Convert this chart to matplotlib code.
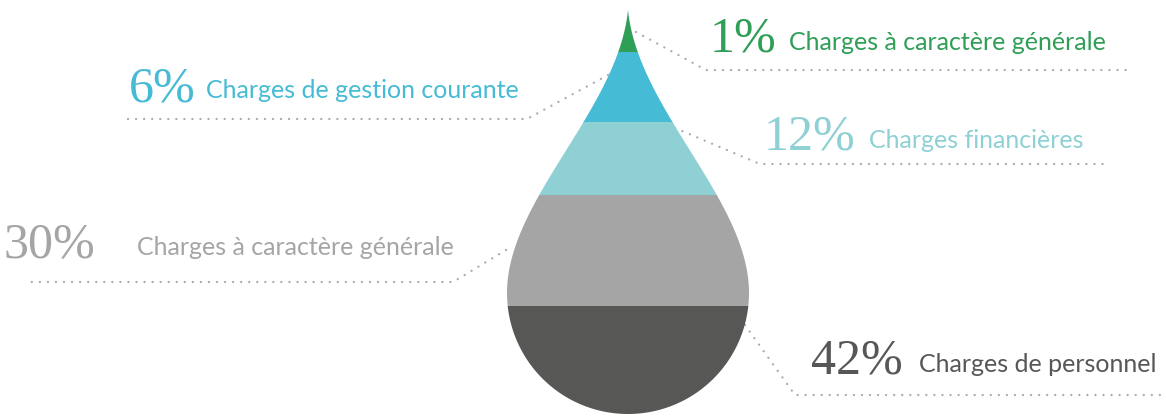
import numpy as np
import matplotlib.pyplot as plt
from matplotlib.patches import Polygon

# shares of the budget, from the tip of the drop down to its base
shares = [1, 6, 12, 30, 42]
labels = [
    "Charges à caractère générale",
    "Charges de gestion courante",
    "Charges financières",
    "Charges à caractère générale",
    "Charges de personnel",
]
colors = ["#2f9e57", "#46bbd5", "#8fd0d5", "#a5a5a5", "#575756"]

# label placement (pixel coords, y down) and leader polylines
pct_pos = [(743, 52), (162, 101), (809, 150), (49, 258), (857, 373)]
lab_pos = [(789, 50), (206, 98), (869, 148), (137, 255), (919, 372)]
leaders = [
    [(636, 32), (706, 70), (1133, 70)],
    [(608, 75), (527, 119), (128, 119)],
    [(675, 128), (760, 164), (1105, 164)],
    [(506, 250), (453, 282), (25, 282)],
    [(745, 325), (795, 395), (1162, 395)],
]

fig = plt.figure(figsize=(11.66, 4.16), dpi=100)
ax = fig.add_axes([0, 0, 1, 1])
ax.set_xlim(0, 1166)
ax.set_ylim(416, 0)
ax.axis("off")

# drop outline: bezier flanks from the tip, round base
cx, tip, mid, r = 628, 10, 293, 121
t = np.linspace(0, 1, 120)[:, None]
p = np.array([[0, 0], [10, 100], [r, 190], [r, mid - tip]])
bez = (1 - t) ** 3 * p[0] + 3 * (1 - t) ** 2 * t * p[1] + 3 * (1 - t) * t ** 2 * p[2] + t ** 3 * p[3]
ang = np.linspace(0, np.pi, 120)
right = np.c_[cx + bez[:, 0], tip + bez[:, 1]]
base = np.c_[cx + r * np.cos(ang), mid + r * np.sin(ang)]
left = np.c_[cx - bez[::-1, 0], tip + bez[::-1, 1]]
drop = Polygon(np.vstack([right, base, left]), closed=True, fc="none", ec="none")
ax.add_patch(drop)

# band depth grows with the square root of the cumulative share
height = mid + r - tip
cum = np.concatenate([[0], np.cumsum(shares)]) / sum(shares)
edges = tip + height * np.sqrt(cum)
for i, c in enumerate(colors):
    band = ax.axhspan(edges[i], edges[i + 1] + 0.5, color=c, lw=0, zorder=2)
    band.set_clip_path(drop)

for i, pts in enumerate(leaders):
    xs, ys = zip(*pts)
    ax.plot(xs, ys, color="#ababab", lw=1.7, linestyle=(0, (0.01, 3.4)),
            dash_capstyle="round", zorder=1)
    ax.text(*pct_pos[i], f"{shares[i]}%", color=colors[i], fontsize=36,
            family="Liberation Serif", ha="center", va="baseline")
    ax.text(*lab_pos[i], labels[i], color=colors[i], fontsize=18,
            family="Lato", ha="left", va="baseline")

fig.savefig("out.png", dpi=100)
